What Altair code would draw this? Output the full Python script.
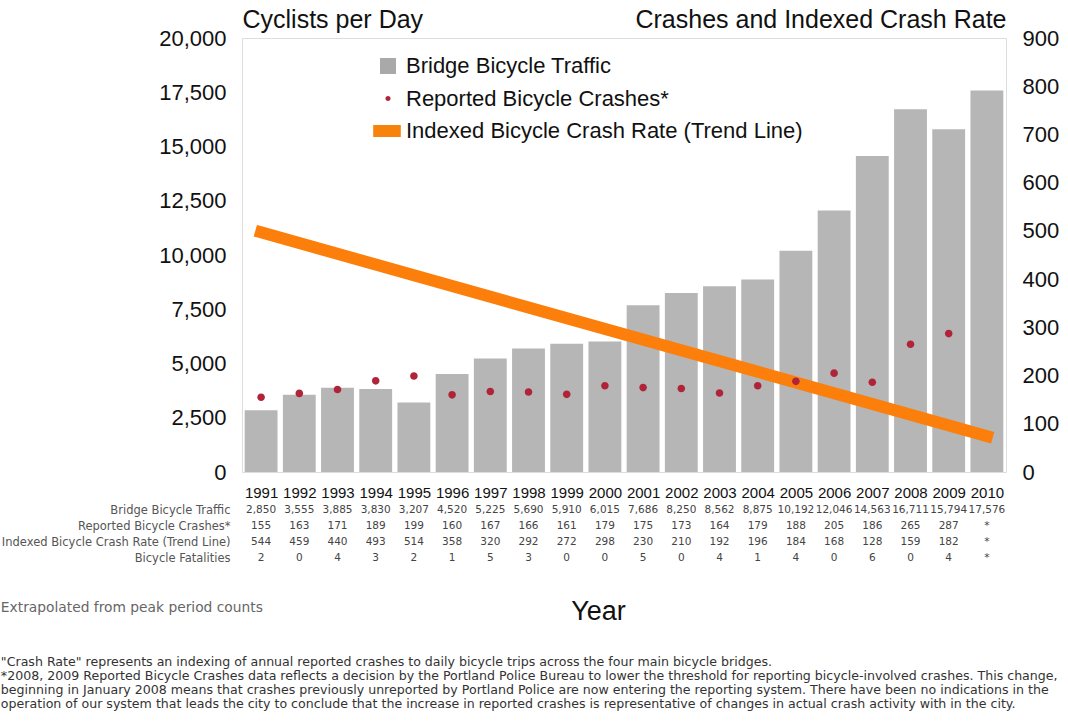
import altair as alt
import pandas as pd

# ---- data -------------------------------------------------------------
years = list(range(1991, 2011))
bridge_traffic = [2850, 3555, 3885, 3830, 3207, 4520, 5225, 5690, 5910, 6015,
                  7686, 8250, 8562, 8875, 10192, 12046, 14563, 16711, 15794, 17576]
reported_crashes = [155, 163, 171, 189, 199, 160, 167, 166, 161, 179,
                    175, 173, 164, 179, 188, 205, 186, 265, 287, None]
crash_rate = [544, 459, 440, 493, 514, 358, 320, 292, 272, 298,
              230, 210, 192, 196, 184, 168, 128, 159, 182, None]
fatalities = [2, 0, 4, 3, 2, 1, 5, 3, 0, 0, 5, 0, 4, 1, 4, 0, 6, 0, 4, None]

series = ["Bridge Bicycle Traffic", "Reported Bicycle Crashes*",
          "Indexed Bicycle Crash Rate (Trend Line)"]
series_colors = ["#a9a9a9", "#b0243a", "#f7830c"]
table_rows = ["Bridge Bicycle Traffic", "Reported Bicycle Crashes*",
              "Indexed Bicycle Crash Rate (Trend Line)", "Bicycle Fatalities"]

left_ticks = list(range(0, 20001, 2500))
right_ticks = list(range(0, 901, 100))

footnotes = [
    "\"Crash Rate\" represents an indexing of annual reported crashes to daily bicycle trips across the four main bicycle bridges.",
    "*2008, 2009 Reported Bicycle Crashes data reflects a decision by the Portland Police Bureau to lower the threshold for reporting bicycle-involved crashes. This change,",
    "beginning in January 2008 means that crashes previously unreported by Portland Police are now entering the reporting system.  There have been no indications in the",
    "operation of our system that leads the city to conclude that the increase in reported crashes is representative of changes in actual crash activity with in the city.",
]

df = pd.DataFrame({
    "year": years,
    "traffic": bridge_traffic,
    "crashes": reported_crashes,
    "rate": crash_rate,
})
df["series"] = series[1]


def cell(v, thousands=False):
    if v is None:
        return "*"
    return f"{v:,}" if thousands else str(v)


table_df = pd.DataFrame(
    [{"year": y, "row": table_rows[0], "label": cell(t, True)} for y, t in zip(years, bridge_traffic)]
    + [{"year": y, "row": table_rows[1], "label": cell(c)} for y, c in zip(years, reported_crashes)]
    + [{"year": y, "row": table_rows[2], "label": cell(r)} for y, r in zip(years, crash_rate)]
    + [{"year": y, "row": table_rows[3], "label": cell(f)} for y, f in zip(years, fatalities)]
)

# ---- shared pieces ----------------------------------------------------
MAIN_FONT = "Liberation Sans"
TABLE_FONT = "DejaVu Sans"
PLOT_W, PLOT_H = 764, 434

x_scale = alt.Scale(domain=[1990.5, 2010.5], nice=False, zero=False)
x_axis = alt.Axis(values=years, format="d", labelFont=MAIN_FONT, labelFontSize=15,
                  labelColor="#111", ticks=False, tickSize=0, domain=False, grid=False,
                  labelPadding=13, labelOverlap=False, labelFlush=False, title=None)

# bars: daily cyclists on the left axis
bars = alt.Chart(df).transform_calculate(
    lo="datum.year - 0.43", hi="datum.year + 0.43"
).mark_bar(color="#b6b6b6").encode(
    x=alt.X("lo:Q", scale=x_scale, axis=x_axis),
    x2="hi:Q",
    y=alt.Y("traffic:Q", scale=alt.Scale(domain=[0, 20000], nice=False),
            axis=alt.Axis(values=left_ticks, format=",d", labelFont=MAIN_FONT,
                          labelFontSize=22, labelColor="#111", labelPadding=16,
                          ticks=False, domain=False, grid=False,
                          title="Cyclists per Day", titleAngle=0, titleAlign="left",
                          titleBaseline="alphabetic", titleX=0, titleY=-11,
                          titleFont=MAIN_FONT, titleFontSize=25,
                          titleFontWeight="normal", titleColor="#111")),
    y2=alt.datum(0),
)

# linear trend of the indexed crash rate
trend = alt.Chart(df).transform_filter(
    "isValid(datum.rate)"
).transform_regression(
    "year", "rate", extent=[1991, 2010]
).mark_line(color="#fb7f0a", strokeWidth=12, strokeCap="square").encode(
    x=alt.X("year:Q", scale=x_scale, axis=x_axis),
    y=alt.Y("rate:Q", scale=alt.Scale(domain=[0, 900], nice=False), axis=None),
)

shape_paths = [
    "M-1,-1H1V1H-1Z",
    "M-0.32,0A0.32,0.32,0,1,0,0.32,0A0.32,0.32,0,1,0,-0.32,0Z",
    "M-1.85,-0.75H1.6V0.75H-1.85Z",
]
legend = alt.Legend(title=None, orient="none", legendX=135, legendY=17,
                    labelFont=MAIN_FONT, labelFontSize=22, labelColor="#111",
                    labelLimit=0, symbolSize=256, symbolStrokeWidth=0,
                    labelOffset=7, rowPadding=10.5)

# reported crashes on the right axis
points = alt.Chart(df).transform_filter(
    "isValid(datum.crashes)"
).mark_point(filled=True, opacity=1, size=560).encode(
    x=alt.X("year:Q", scale=x_scale, axis=x_axis),
    y=alt.Y("crashes:Q", scale=alt.Scale(domain=[0, 900], nice=False),
            axis=alt.Axis(orient="right", values=right_ticks, labelFont=MAIN_FONT,
                          labelFontSize=22, labelColor="#111", labelPadding=16,
                          ticks=False, domain=False, grid=False,
                          title="Crashes and Indexed Crash Rate", titleAngle=0,
                          titleAlign="right", titleBaseline="alphabetic",
                          titleX=0, titleY=-11, titleFont=MAIN_FONT, titleFontSize=25,
                          titleFontWeight="normal", titleColor="#111")),
    color=alt.Color("series:N", scale=alt.Scale(domain=series, range=series_colors),
                    legend=legend),
    shape=alt.Shape("series:N", scale=alt.Scale(domain=series, range=shape_paths),
                    legend=legend),
)

main = alt.layer(bars, trend, points).resolve_scale(y="independent").properties(
    width=PLOT_W, height=PLOT_H
)

# data table under the year labels
table = alt.Chart(table_df).mark_text(font=TABLE_FONT, fontSize=10.5, color="#444").encode(
    x=alt.X("year:Q", scale=x_scale,
            axis=alt.Axis(labels=False, ticks=False, tickSize=0, domain=False, grid=False,
                          title="Year", titleFont=MAIN_FONT, titleFontSize=27,
                          titleFontWeight="normal", titleColor="#111",
                          titlePadding=32, titleX=356)),
    y=alt.Y("row:N", sort=table_rows, scale=alt.Scale(paddingInner=0, paddingOuter=0),
            axis=alt.Axis(title=None, labelFont=TABLE_FONT, labelFontSize=11.5,
                          labelColor="#555", labelLimit=0, ticks=False, tickSize=0,
                          domain=False, grid=False, labelPadding=12)),
    text="label:N",
).properties(width=PLOT_W, height=64, view=alt.ViewBackground(stroke="transparent"))

chart = alt.vconcat(main, table, spacing=0).properties(
    padding={"left": 0, "top": 6, "right": 4, "bottom": 4},
    title=alt.TitleParams(
        text="Extrapolated from peak period counts",
        subtitle=footnotes,
        orient="bottom", anchor="start", frame="bounds", offset=-24,
        font=TABLE_FONT, fontSize=13.8, fontWeight="normal", color="#666",
        subtitleFont=TABLE_FONT, subtitleFontSize=12.6, subtitleColor="#333",
        subtitleLineHeight=14, subtitlePadding=42,
    ),
).configure_view(stroke="#262626", strokeWidth=1.5).configure(background="white")

chart.save("out.html", embed_options={"renderer": "svg", "actions": False})
